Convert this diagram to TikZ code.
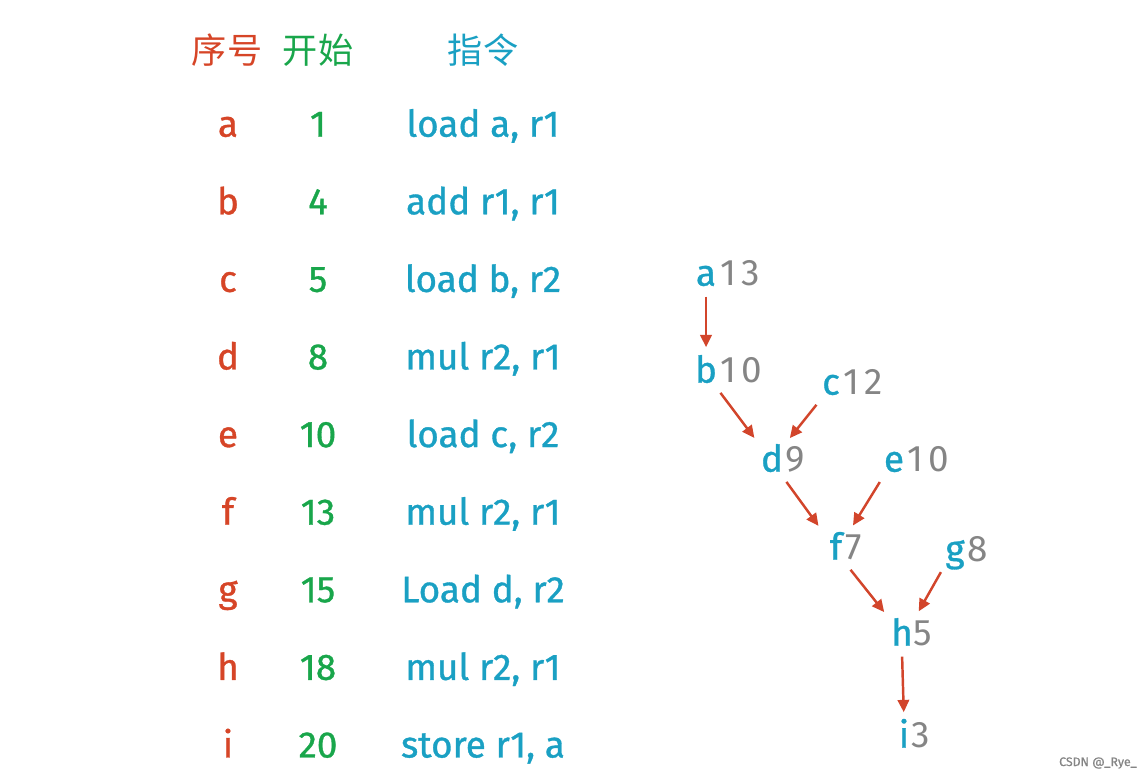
\documentclass[tikz,border=0pt]{standalone}
\usepackage{fontspec}
\setmainfont{Fira Sans}[FakeBold=0.9]
\newfontfamily\cjk{Noto Sans CJK SC}
\newfontfamily\digits{Fira Sans}[LetterSpace=14]
\usetikzlibrary{arrows.meta,positioning}
\definecolor{seq}{HTML}{D64527}
\definecolor{start}{HTML}{19A64B}
\definecolor{instr}{HTML}{1AA0C3}
\definecolor{cost}{HTML}{858585}
\definecolor{edge}{HTML}{D2452B}

\begin{document}
\begin{tikzpicture}[x=0.02cm,y=-0.02cm,font=\fontsize{21}{24}\selectfont,
  head/.style={font=\cjk\fontsize{20}{24}\selectfont,inner sep=0pt},
  cell/.style={inner sep=0pt,text height=15pt,text depth=4pt},
  letter/.style={text=instr,inner sep=0pt,text height=15pt,text depth=4pt,minimum width=4.8mm},
  num/.style={text=cost,inner sep=0pt,text height=15pt,text depth=4pt,anchor=west,
    font=\digits\fontsize{21}{24}\selectfont},
  arr/.style={-{Triangle[length=7pt,width=6.5pt]},line width=1.4pt,draw=edge,
    shorten <=2pt,shorten >=5pt}]
  \useasboundingbox (0,0) rectangle (1142,778);
  % table
  \node[head,text=seq] (hseq) at (227,50) {序号};
  \node[head,text=start] (hstart) at (318,50) {开始};
  \node[head,text=instr] (hinstr) at (483,50) {指令};
  \foreach \id/\st/\ins [count=\i] in {a/1/{load a, r1},b/4/{add r1, r1},
      c/5/{load b, r2},d/8/{mul r2, r1},e/10/{load c, r2},f/13/{mul r2, r1},
      g/15/{Load d, r2},h/18/{mul r2, r1},i/20/{store r1, a}}{
    \node[cell,text=seq] (seq-\i) at (228,{127+(\i-1)*77.6}) {\id};
    \node[cell,text=start] (start-\i) at (318,{127+(\i-1)*77.6}) {\st};
    \node[cell,text=instr] (instr-\i) at (483,{127+(\i-1)*77.6}) {\ins};
  }
  % dependency tree
  \foreach \n/\x/\y/\c/\o in {a/706/276/13/14,b/706/373/10/14,c/831/385/12/12,
      d/772/462/9/13,e/894/462/10/13,f/836/550/7/9,g/955/552/8/12,
      h/902/636/5/11,i/904/738/3/7}{
    \node[letter] (t\n) at (\x,\y) {\n};
    \node[num] (t\n-c) at ([xshift=\o*0.02cm]t\n.center) {\c};
  }
  \draw[arr] (ta.south) -- (tb.north);
  \draw[arr] (tb.south east) -- (td.north west);
  \draw[arr] (tc.south west) -- (td.north east);
  \draw[arr] (td.south east) -- (tf.north west);
  \draw[arr] (te.south west) -- (tf.north east);
  \draw[arr] (tf.south east) -- (th.north west);
  \draw[arr] (tg.south west) -- (th.north east);
  \draw[arr] (th.south) -- (ti.north);
  \node[text=cost,font=\fontsize{7}{8}\selectfont] (mark) at (1098,763) {CSDN @\_Rye\_};
\end{tikzpicture}
\end{document}
